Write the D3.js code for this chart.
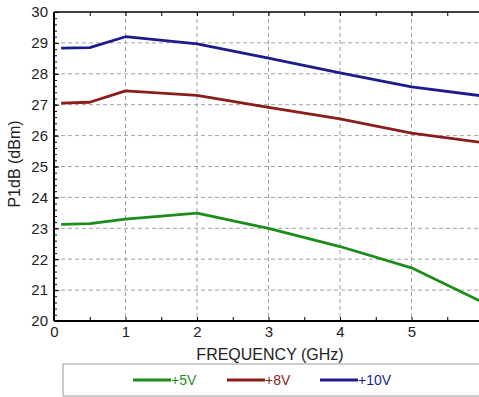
<!DOCTYPE html>
<html>
<head>
<meta charset="utf-8">
<script src="https://cdn.jsdelivr.net/npm/d3@7/dist/d3.min.js"></script>
<style>
  html, body { margin: 0; padding: 0; background: #fff; }
  svg { display: block; }
  text { font-family: "Liberation Sans", Arial, sans-serif; }
</style>
</head>
<body>
<svg id="chart" width="479" height="397"></svg>
<script>
// P1dB versus frequency for three supply voltages
const frequency = [0.1, 0.5, 1, 2, 3, 4, 5, 6];
const p1dB5V  = [23.13, 23.15, 23.3, 23.49, 23.0, 22.41, 21.72, 20.6];
const p1dB8V  = [27.05, 27.08, 27.45, 27.3, 26.91, 26.54, 26.08, 25.77];
const p1dB10V = [28.83, 28.85, 29.2, 28.97, 28.51, 28.03, 27.58, 27.28];

const seriesNames  = ["+5V", "+8V", "+10V"];
const seriesColors = ["#1c8c1c", "#8c1c1c", "#1c1c8c"];
const xTicks = [0, 1, 2, 3, 4, 5, 6];
const yTicks = [20, 21, 22, 23, 24, 25, 26, 27, 28, 29, 30];

const series = [p1dB5V, p1dB8V, p1dB10V].map((vals, i) => ({
  name: seriesNames[i], color: seriesColors[i],
  points: vals.map((v, j) => [frequency[j], v])
}));

const svg = d3.select("#chart");
const mLeft = 54, mTop = 12, mRight = 483, mBottom = 321;

const x = d3.scaleLinear().domain([0, 6]).range([mLeft, mRight]);
const y = d3.scaleLinear().domain([20, 30]).range([mBottom, mTop]);

// dashed grid
const grid = svg.append("g").attr("stroke", "#a0a0a0").attr("stroke-width", 1)
  .attr("stroke-dasharray", "4,3");
grid.selectAll("line.h").data(yTicks.slice(1, -1)).join("line").attr("class", "h")
  .attr("x1", mLeft).attr("x2", mRight)
  .attr("y1", d => y(d)).attr("y2", d => y(d));
grid.selectAll("line.v").data(xTicks.slice(1, -1)).join("line").attr("class", "v")
  .attr("y1", mTop).attr("y2", mBottom)
  .attr("x1", d => x(d)).attr("x2", d => x(d));

// axes with inward ticks
const yMinor = d3.range(20, 30.001, 0.2);
const xMinor = d3.range(0, 6.001, 0.5);

svg.append("g").attr("transform", `translate(${mLeft},0)`)
  .call(d3.axisRight(y).tickValues(yMinor).tickSize(3).tickFormat(""))
  .call(g => g.select(".domain").remove());
svg.append("g").attr("transform", `translate(${mLeft},0)`)
  .call(d3.axisLeft(y).tickValues(yTicks).tickSize(0).tickPadding(6).tickFormat(d3.format("d")))
  .call(g => g.select(".domain").remove())
  .call(g => g.selectAll("text").attr("font-size", 15).attr("fill", "#222"));
svg.append("g").attr("transform", `translate(${mLeft},0)`)
  .call(d3.axisRight(y).tickValues(yTicks).tickSize(5).tickFormat(""))
  .call(g => g.select(".domain").remove());

svg.append("g").attr("transform", `translate(0,${mBottom})`)
  .call(d3.axisTop(x).tickValues(xMinor).tickSize(4).tickFormat(""))
  .call(g => g.select(".domain").remove());
svg.append("g").attr("transform", `translate(0,${mBottom})`)
  .call(d3.axisBottom(x).tickValues(xTicks).tickSize(0).tickPadding(5).tickFormat(d3.format("d")))
  .call(g => g.select(".domain").remove())
  .call(g => g.selectAll("text").attr("font-size", 15).attr("fill", "#222"));
svg.append("g").attr("transform", `translate(0,${mTop})`)
  .call(d3.axisBottom(x).tickValues(xMinor).tickSize(4).tickFormat(""))
  .call(g => g.select(".domain").remove());

// frame lines
svg.append("line").attr("x1", mLeft).attr("x2", mLeft).attr("y1", mTop).attr("y2", mBottom)
  .attr("stroke", "#000").attr("stroke-width", 2);
svg.append("line").attr("x1", mLeft).attr("x2", mRight).attr("y1", mBottom).attr("y2", mBottom)
  .attr("stroke", "#000").attr("stroke-width", 2);
svg.append("line").attr("x1", mLeft).attr("x2", mRight).attr("y1", mTop).attr("y2", mTop)
  .attr("stroke", "#000").attr("stroke-width", 1.5);

// curves
const line = d3.line().x(d => x(d[0])).y(d => y(d[1]));
svg.append("g").selectAll("path").data(series).join("path")
  .attr("d", d => line(d.points))
  .attr("fill", "none").attr("stroke", d => d.color)
  .attr("stroke-width", 2.8).attr("stroke-linejoin", "round");

// axis titles
svg.append("text").attr("x", 270).attr("y", 360).attr("text-anchor", "middle")
  .attr("font-size", 16).attr("fill", "#222").text("FREQUENCY (GHz)");
svg.append("text").attr("transform", `translate(20,${164}) rotate(-90)`)
  .attr("text-anchor", "middle").attr("font-size", 16).attr("fill", "#222").text("P1dB (dBm)");

// legend
svg.append("rect").attr("x", 63).attr("y", 364).attr("width", 430).attr("height", 32)
  .attr("fill", "#fff").attr("stroke", "#999").attr("stroke-width", 1);
const legendX = [133, 227, 320];
const lg = svg.append("g").selectAll("g").data(series).join("g")
  .attr("transform", (d, i) => `translate(${legendX[i]},380)`);
lg.append("line").attr("x1", 0).attr("x2", 38).attr("stroke", d => d.color).attr("stroke-width", 2.8);
lg.append("text").attr("x", 38).attr("y", 5).attr("font-size", 14)
  .attr("fill", d => d.color).text(d => d.name);
</script>
</body>
</html>
